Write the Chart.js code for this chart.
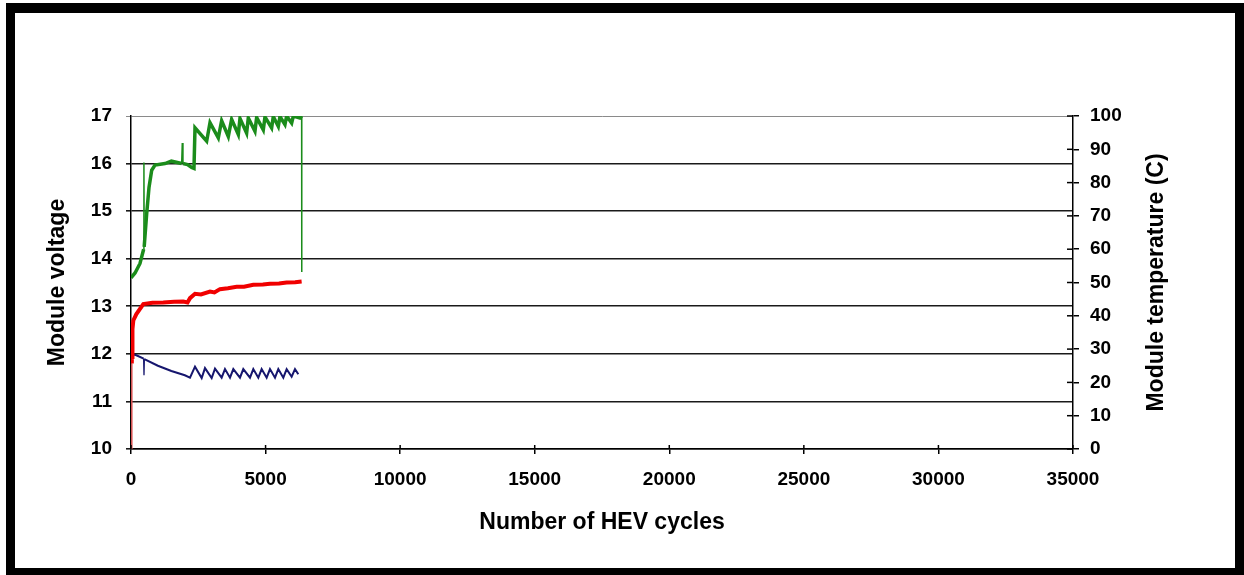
<!DOCTYPE html>
<html>
<head>
<meta charset="utf-8">
<title>Module voltage and temperature vs HEV cycles</title>
<script src="https://cdn.jsdelivr.net/npm/chart.js@4.4.1/dist/chart.umd.min.js"></script>
<style>
  html, body { margin: 0; padding: 0; background: #fff; overflow: hidden; }
  #frame { position: absolute; left: 6px; top: 3px; width: 1238px; height: 572px; background: #000; }
  #inner { position: absolute; left: 9px; top: 10px; width: 1220px; height: 555px; background: #fff; }
  #chart { position: absolute; left: 0; top: 0; }
</style>
</head>
<body>
<div id="frame"><div id="inner"></div></div>
<canvas id="chart" width="1244" height="575"></canvas>
<script>
// max module voltage (green, left axis)
const greenCycles = [0, 150, 334, 470, 480, 490, 583, 669, 769, 892, 1263, 1500, 1883, 1906, 1930, 2100, 2254, 2340,
  2378, 2811, 2935, 3244, 3368, 3615, 3739, 3987, 4049, 4296, 4358, 4606, 4668, 4915, 4978, 5225, 5287,
  5473, 5535, 5721, 5783, 5969, 6031, 6278, 6340, 6345];
const greenVolts = [13.6, 13.7, 13.9, 14.2, 16.02, 14.25, 14.95, 15.5, 15.86, 15.97, 16.0, 16.05, 16.0, 16.43, 16.0, 15.98, 15.92, 15.9,
  16.75, 16.47, 16.86, 16.54, 16.9, 16.57, 16.93, 16.61, 16.95, 16.64, 16.96, 16.68, 16.97, 16.71, 16.98, 16.75, 16.99,
  16.78, 16.99, 16.82, 17.0, 16.85, 17.0, 16.96, 17.0, 13.72];
const greenSpikes = [3, 4, 12, 13];

// min module voltage (blue, left axis)
const blueCycles = [0, 200, 470, 483, 496, 1000, 1500, 2000, 2192, 2378, 2626, 2749, 2997, 3121, 3368, 3492, 3678,
  3801, 4049, 4172, 4421, 4544, 4730, 4854, 5040, 5164, 5350, 5473, 5659, 5783, 5969, 6093, 6216];
const blueVolts = [12.0, 11.97, 11.9, 11.55, 11.89, 11.75, 11.64, 11.55, 11.5, 11.73, 11.49, 11.70, 11.49, 11.69, 11.50, 11.68, 11.50,
  11.68, 11.50, 11.68, 11.50, 11.68, 11.50, 11.68, 11.50, 11.68, 11.50, 11.68, 11.50, 11.68, 11.52, 11.68, 11.57];

// module temperature (red, right axis)
const redCycles = [30, 30, 40, 50, 60, 86, 200, 457, 800, 1200, 1600, 1943, 2100, 2192, 2378, 2600, 2935, 3100, 3306,
  3600, 3925, 4200, 4544, 4900, 5164, 5500, 5783, 6100, 6340];
const redTemps = [0, 25.7, 30, 27, 36, 38.6, 40.5, 43.5, 43.9, 44.0, 44.2, 44.3, 44.0, 45.3, 46.6, 46.4, 47.3, 47.0, 48.0,
  48.3, 48.7, 48.7, 49.3, 49.4, 49.6, 49.7, 50.0, 50.1, 50.3];

const xTicks = [0, 5000, 10000, 15000, 20000, 25000, 30000, 35000];

const pts = (xs, ys) => xs.map((x, i) => ({ x: x, y: ys[i] }));

Chart.defaults.font.family = "'Liberation Sans', Arial, sans-serif";
Chart.defaults.color = '#000';

// draws the inner half of the cross-shaped tick marks and the rotated right title
const axisExtras = {
  id: 'axisExtras',
  afterDraw(chart) {
    const c = chart.ctx;
    const yT = chart.scales.yT;
    const x = chart.scales.x;
    c.save();
    c.strokeStyle = '#000';
    c.lineWidth = 1.5;
    yT.ticks.forEach(t => {
      const py = yT.getPixelForValue(t.value);
      c.beginPath();
      c.moveTo(yT.left - 6, py);
      c.lineTo(yT.left, py);
      c.stroke();
    });
    x.ticks.forEach(t => {
      const px = x.getPixelForValue(t.value);
      c.beginPath();
      c.moveTo(px, x.top - 4);
      c.lineTo(px, x.top);
      c.stroke();
    });
    c.translate(1157, (chart.chartArea.top + chart.chartArea.bottom) / 2);
    c.rotate(-Math.PI / 2);
    c.font = "bold 23px 'Liberation Sans', Arial, sans-serif";
    c.fillStyle = '#000';
    c.textAlign = 'center';
    c.textBaseline = 'middle';
    c.fillText('Module temperature (C)', 0, 0);
    c.restore();
  }
};

new Chart(document.getElementById('chart'), {
  type: 'line',
  data: {
    datasets: [
      {
        label: 'Max voltage',
        data: pts(greenCycles, greenVolts),
        yAxisID: 'y',
        borderColor: '#1b8c1b',
        borderWidth: 3.5,
        pointRadius: 0,
        tension: 0,
        segment: {
          borderWidth: s => (s.p1DataIndex === greenCycles.length - 1 || greenSpikes.includes(s.p0DataIndex)) ? 1.5 : 3.5
        }
      },
      {
        label: 'Temperature',
        data: pts(redCycles, redTemps),
        yAxisID: 'yT',
        borderColor: '#f00000',
        borderWidth: 4,
        pointRadius: 0,
        tension: 0,
        segment: {
          borderWidth: s => s.p0DataIndex === 0 ? 1.5 : 4,
          borderColor: s => s.p0DataIndex === 0 ? '#d85050' : '#f00000'
        }
      },
      {
        label: 'Min voltage',
        data: pts(blueCycles, blueVolts),
        yAxisID: 'y',
        borderColor: '#16166e',
        borderWidth: 2,
        pointRadius: 0,
        tension: 0,
        segment: { borderWidth: s => (s.p0DataIndex === 2 || s.p0DataIndex === 3) ? 1.3 : 2 }
      }
    ]
  },
  options: {
    responsive: false,
    animation: false,
    devicePixelRatio: 1,
    layout: { padding: { top: 116, left: 0, right: 0, bottom: 0 } },
    plugins: { legend: { display: false }, tooltip: { enabled: false } },
    scales: {
      x: {
        type: 'linear',
        min: 0,
        max: 35000,
        afterBuildTicks: s => { s.ticks = xTicks.map(v => ({ value: v })); },
        afterFit: s => { s.height = 126; },
        ticks: {
          font: { size: 19, weight: 'bold' },
          padding: 14,
          maxRotation: 0,
          autoSkip: false,
          callback: v => String(v)
        },
        grid: { drawOnChartArea: false, tickLength: 5, color: '#000', lineWidth: 1.5 },
        border: { color: '#000', width: 1.5 },
        title: {
          display: true,
          text: 'Number of HEV cycles',
          font: { size: 23, weight: 'bold' },
          padding: { top: 0, bottom: 39 }
        }
      },
      y: {
        position: 'left',
        min: 10,
        max: 17,
        afterFit: s => { s.width = 131; },
        ticks: { stepSize: 1, font: { size: 19, weight: 'bold' }, padding: 14 },
        grid: {
          color: c => (c.tick && c.tick.value === 17) ? '#8a8a8a' : '#1a1a1a',
          lineWidth: c => (c.tick && c.tick.value === 17) ? 1 : 1.6,
          tickLength: 5
        },
        border: { color: '#000', width: 1.5 },
        title: {
          display: true,
          text: 'Module voltage',
          font: { size: 23, weight: 'bold' },
          padding: { top: 44, bottom: 0 }
        }
      },
      yT: {
        position: 'right',
        min: 0,
        max: 100,
        afterFit: s => { s.width = 171; },
        ticks: { stepSize: 10, font: { size: 19, weight: 'bold' }, padding: 11 },
        grid: { drawOnChartArea: false, tickLength: 6, color: '#000', lineWidth: 1.5 },
        border: { color: '#000', width: 1.5 }
      }
    }
  },
  plugins: [axisExtras]
});
</script>
</body>
</html>
